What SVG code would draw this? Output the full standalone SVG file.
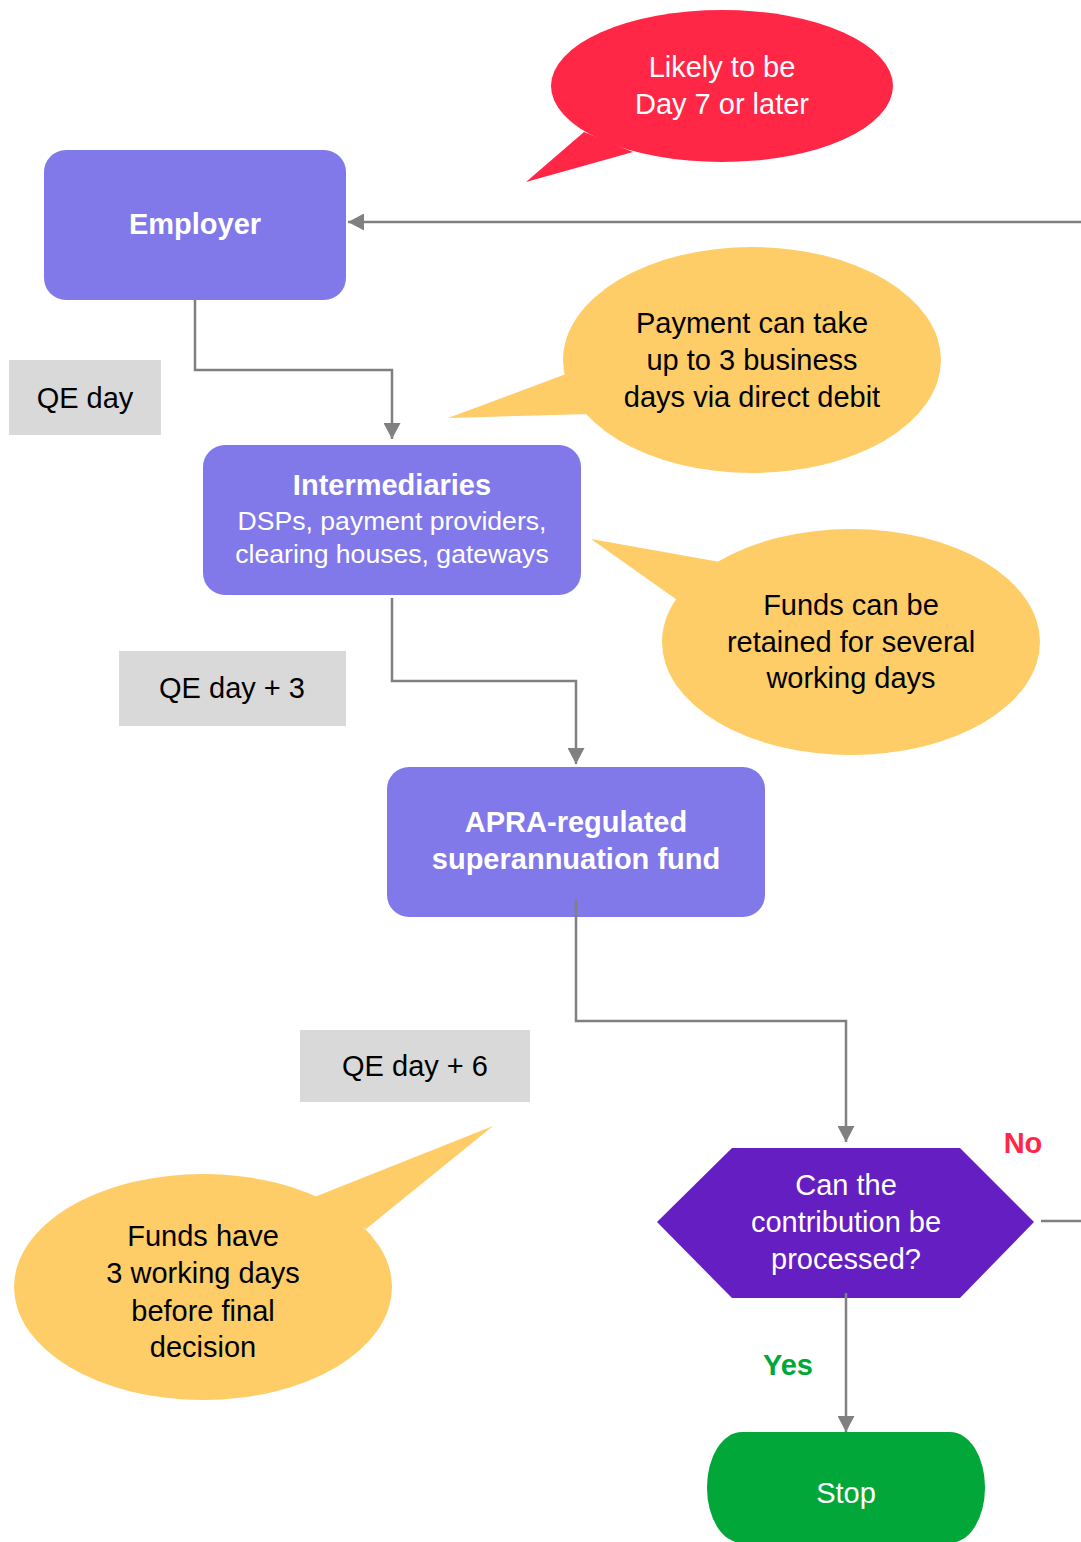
<svg xmlns="http://www.w3.org/2000/svg" width="1081" height="1542" viewBox="0 0 1081 1542">
<style>
text{font-family:"Liberation Sans",Arial,sans-serif;text-anchor:middle}
.w{fill:#ffffff}
.k{fill:#000000}
.b{font-weight:bold}
.f29{font-size:29px}
.f26{font-size:26.6px}
.node{fill:#8179E9}
.qe{fill:#D9D9D9}
.yel{fill:#FECD67}
.con{fill:none;stroke:#808080;stroke-width:2.5}
</style>
<defs>
<marker id="arr" markerUnits="userSpaceOnUse" markerWidth="17" markerHeight="17" refX="16" refY="8.5" orient="auto">
<path d="M0,0 L16,8.5 L0,17 z" fill="#808080"/>
</marker>
</defs>

<g id="bubble-red">
<path d="M584,132 L526,182 L633,152 Z" fill="#FF2646"/>
<ellipse cx="722" cy="86" rx="171" ry="76" fill="#FF2646"/>
<text class="w f29" x="722" y="77">Likely to be</text>
<text class="w f29" x="722" y="114">Day 7 or later</text>
</g>

<g id="bubble-payment">
<path d="M566,374 L448,418 L590,414 Z" class="yel"/>
<ellipse cx="752" cy="360" rx="189" ry="113" class="yel"/>
<text class="k f29" x="752" y="333">Payment can take</text>
<text class="k f29" x="752" y="370">up to 3 business</text>
<text class="k f29" x="752" y="407">days via direct debit</text>
</g>

<g id="bubble-retained">
<path d="M720,562 L591,539 L680,602 Z" class="yel"/>
<ellipse cx="851" cy="642" rx="189" ry="113" class="yel"/>
<text class="k f29" x="851" y="615">Funds can be</text>
<text class="k f29" x="851" y="652">retained for several</text>
<text class="k f29" x="851" y="688">working days</text>
</g>

<g id="bubble-decision">
<path d="M312,1198 L493,1126 L366,1229 Z" class="yel"/>
<ellipse cx="203" cy="1287" rx="189" ry="113" class="yel"/>
<text class="k f29" x="203" y="1246">Funds have</text>
<text class="k f29" x="203" y="1283">3 working days</text>
<text class="k f29" x="203" y="1321">before final</text>
<text class="k f29" x="203" y="1357">decision</text>
</g>

<g id="qe-day">
<rect x="9" y="360" width="152" height="75" class="qe"/>
<text class="k f29" x="85" y="408">QE day</text>
</g>
<g id="qe-day-3">
<rect x="119" y="651" width="227" height="75" class="qe"/>
<text class="k f29" x="232" y="698">QE day + 3</text>
</g>
<g id="qe-day-6">
<rect x="300" y="1030" width="230" height="72" class="qe"/>
<text class="k f29" x="415" y="1076">QE day + 6</text>
</g>

<g id="employer">
<rect x="44" y="150" width="302" height="150" rx="22" class="node"/>
<text class="w b f29" x="195" y="234">Employer</text>
</g>

<g id="intermediaries">
<rect x="203" y="445" width="378" height="150" rx="22" class="node"/>
<text class="w b f29" x="392" y="495">Intermediaries</text>
<text class="w f26" x="392" y="530">DSPs, payment providers,</text>
<text class="w f26" x="392" y="563">clearing houses, gateways</text>
</g>

<g id="apra-fund">
<rect x="387" y="767" width="378" height="150" rx="22" class="node"/>
<text class="w b f29" x="576" y="832">APRA-regulated</text>
<text class="w b f29" x="576" y="869">superannuation fund</text>
</g>

<g id="decision">
<polygon points="732,1148 960,1148 1034,1222 960,1298 732,1298 657,1222" fill="#651EC2"/>
<text class="w f29" x="846" y="1195">Can the</text>
<text class="w f29" x="846" y="1232">contribution be</text>
<text class="w f29" x="846" y="1269">processed?</text>
</g>

<g id="stop">
<rect x="707" y="1432" width="278" height="111" rx="35" ry="55" fill="#02A73A"/>
<text class="w f29" x="846" y="1503">Stop</text>
</g>

<g id="connectors">
<path class="con" d="M1081,222 L348,222" marker-end="url(#arr)"/>
<path class="con" d="M195,300 L195,370 L392,370 L392,439" marker-end="url(#arr)"/>
<path class="con" d="M392,598 L392,681 L576,681 L576,764" marker-end="url(#arr)"/>
<path class="con" d="M576,900 L576,1021 L846,1021 L846,1142" marker-end="url(#arr)"/>
<path class="con" d="M1041,1221 L1081,1221"/>
<path class="con" d="M846,1293 L846,1432" marker-end="url(#arr)"/>
<text class="b f29" x="1023" y="1153" fill="#FF2646">No</text>
<text class="b f29" x="788" y="1375" fill="#00A838">Yes</text>
</g>
</svg>
